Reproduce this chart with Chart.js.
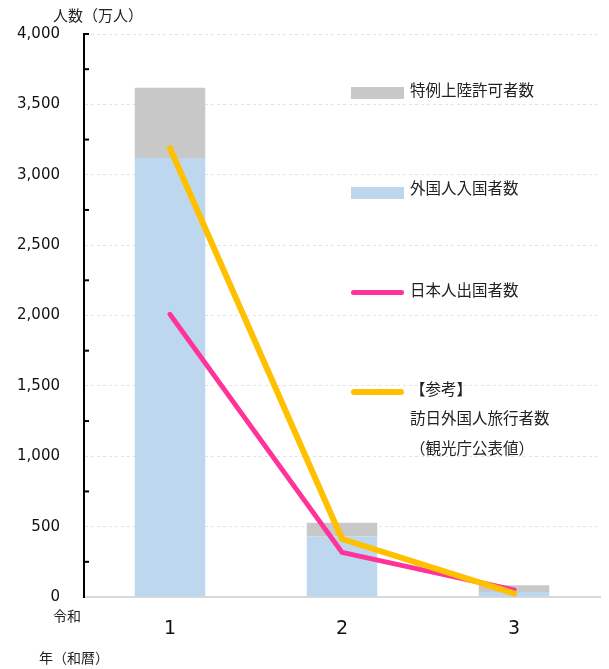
<!DOCTYPE html>
<html>
<head>
<meta charset="utf-8">
<script src="https://cdn.jsdelivr.net/npm/chart.js@4/dist/chart.umd.min.js"></script>
<style>
    body { margin: 0; background: #fff; }
    #wrap { position: relative; width: 609px; height: 669px; }
    .lbl { position: absolute; font-family: "DejaVu Sans", "Noto Sans CJK JP", sans-serif; font-size: 14px; color: #222; white-space: nowrap; line-height: 1; }
    .leg { font-size: 15.5px; }
    .sw { position: absolute; left: 351px; width: 53px; }
</style>
</head>
<body>
<div id="wrap">
    <canvas id="immigrationChart" width="609" height="669"></canvas>

    <div class="lbl" style="left:53px; top:9px; font-size:15px;">人数（万人）</div>
    <div class="lbl" style="left:53px; top:609px;">令和</div>
    <div class="lbl" style="left:39px; top:651px;">年（和暦）</div>

    <div class="sw" style="top:87px; height:12px; background:#c8c8c8;"></div>
    <div class="lbl leg" style="left:410px; top:84px;">特例上陸許可者数</div>
    <div class="sw" style="top:187px; height:12px; background:#bdd7ee;"></div>
    <div class="lbl leg" style="left:410px; top:182px;">外国人入国者数</div>
    <div class="sw" style="top:290px; height:5px; border-radius:3px; background:#ff3399;"></div>
    <div class="lbl leg" style="left:410px; top:284px;">日本人出国者数</div>
    <div class="sw" style="top:389px; height:6px; border-radius:3px; background:#ffc000;"></div>
    <div class="lbl leg" style="left:410px; top:383px;">【参考】</div>
    <div class="lbl leg" style="left:410px; top:412px;">訪日外国人旅行者数</div>
    <div class="lbl leg" style="left:410px; top:442px;">（観光庁公表値）</div>
</div>

<script>
// Data (万人)
const years = ['1', '2', '3'];
const foreignEntrants = [3119, 430, 35];
const specialLanding = [500, 98, 48];
const japaneseDepartures = [2008, 317, 51];
const visitorArrivals = [3188, 412, 25];

// Minor tick marks inside the y axis
const minorTicks = {
    id: 'minorTicks',
    afterDraw(chart) {
        const y = chart.scales.y;
        const ctx = chart.ctx;
        ctx.save();
        ctx.strokeStyle = '#000';
        ctx.lineWidth = 2;
        for (let v = 250; v <= 4000; v += 250) {
            if (v % 500 === 0 && v !== 4000) continue;
            const py = y.getPixelForValue(v);
            ctx.beginPath();
            ctx.moveTo(y.right, py);
            ctx.lineTo(y.right + 5, py);
            ctx.stroke();
        }
        ctx.restore();
    }
};

new Chart(document.getElementById('immigrationChart'), {
    data: {
        labels: years,
        datasets: [
            {
                type: 'line',
                label: '【参考】訪日外国人旅行者数（観光庁公表値）',
                data: visitorArrivals,
                borderColor: '#ffc000',
                borderWidth: 6,
                borderCapStyle: 'round',
                borderJoinStyle: 'round',
                pointRadius: 0,
                stack: 'visitors',
                order: 0
            },
            {
                type: 'line',
                label: '日本人出国者数',
                data: japaneseDepartures,
                borderColor: '#ff3399',
                borderWidth: 5,
                borderCapStyle: 'round',
                borderJoinStyle: 'round',
                pointRadius: 0,
                stack: 'departures',
                order: 1
            },
            {
                type: 'bar',
                label: '外国人入国者数',
                data: foreignEntrants,
                backgroundColor: '#bdd7ee',
                stack: 'entrants',
                order: 2
            },
            {
                type: 'bar',
                label: '特例上陸許可者数',
                data: specialLanding,
                backgroundColor: '#c8c8c8',
                stack: 'entrants',
                order: 2
            }
        ]
    },
    options: {
        responsive: false,
        animation: false,
        layout: { padding: { top: 34, right: 9, left: 0, bottom: 0 } },
        datasets: {
            bar: { categoryPercentage: 1, barPercentage: 0.41 }
        },
        plugins: {
            legend: { display: false },
            tooltip: { enabled: false }
        },
        scales: {
            x: {
                stacked: true,
                afterFit(scale) { scale.height = 72; },
                grid: { display: false, drawTicks: false },
                border: { color: '#d9d9d9', width: 2 },
                ticks: {
                    padding: 21,
                    color: '#111',
                    font: { family: '"DejaVu Sans", sans-serif', size: 19 }
                }
            },
            y: {
                stacked: true,
                min: 0,
                max: 4000,
                afterFit(scale) { scale.width = 84; },
                grid: {
                    drawTicks: false,
                    color: (c) => (c.tick && c.tick.value % 500 === 0 && c.tick.value !== 0) ? '#e3e3e3' : 'rgba(0,0,0,0)',
                    lineWidth: 1
                },
                border: { color: '#000', width: 2, dash: [3, 3] },
                ticks: {
                    stepSize: 250,
                    padding: 24,
                    color: '#111',
                    font: { family: '"DejaVu Sans", sans-serif', size: 15 },
                    callback: (v) => v % 500 === 0 ? v.toLocaleString('en-US') : ''
                }
            }
        }
    },
    plugins: [minorTicks]
});
</script>
</body>
</html>
